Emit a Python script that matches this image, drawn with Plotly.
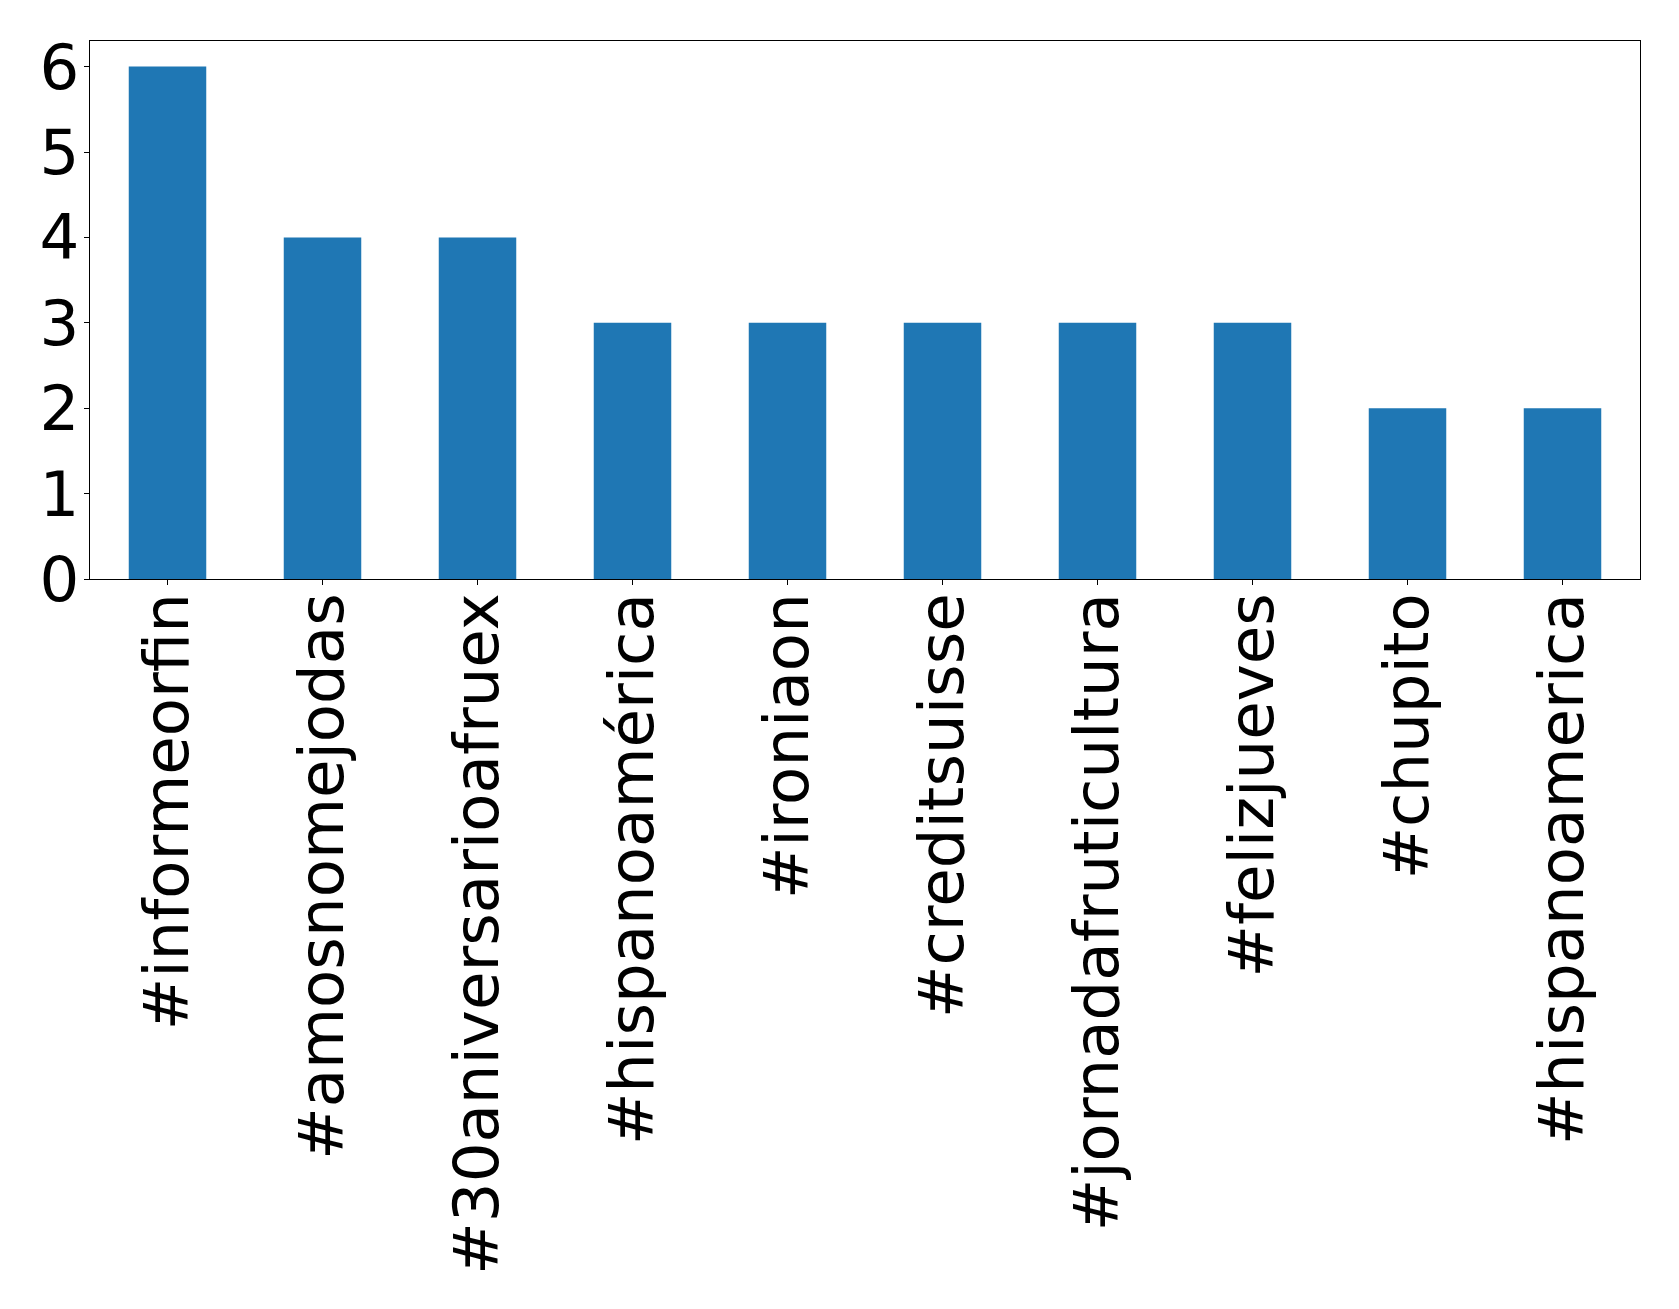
import plotly.graph_objects as go

hashtags = ["#informeorfin", "#amosnomejodas", "#30aniversarioafruex", "#hispanoamérica",
            "#ironiaon", "#creditsuisse", "#jornadafruticultura", "#felizjueves",
            "#chupito", "#hispanoamerica"]
counts = [6, 4, 4, 3, 3, 3, 3, 3, 2, 2]
y_ticks = [0, 1, 2, 3, 4, 5, 6]

fig = go.Figure(go.Bar(x=list(range(len(hashtags))), y=counts, width=0.5,
                       marker=dict(color="#1f77b4", line=dict(width=0))))

font = dict(family="DejaVu Sans", size=62.6, color="black")
fig.update_layout(
    width=1671, height=1301,
    margin=dict(l=82, r=39, t=33, b=730, autoexpand=False),
    plot_bgcolor="white", paper_bgcolor="white",
    showlegend=False,
    font=font,
)
fig.update_xaxes(
    range=[-0.5, 9.5], tickmode="array", tickvals=list(range(len(hashtags))),
    ticktext=hashtags, tickangle=-90, ticks="outside", ticklen=5, tickwidth=1.3,
    tickcolor="black", showline=True, linecolor="black", linewidth=1.3, mirror=True,
    showgrid=False, zeroline=False, tickfont=font, ticklabelstandoff=-17,
)
fig.update_yaxes(
    range=[0, 6.3], tickmode="array", tickvals=y_ticks,
    ticktext=[str(v) for v in y_ticks], ticks="outside", ticklen=5, tickwidth=1.3,
    tickcolor="black", showline=True, linecolor="black", linewidth=1.3, mirror=True,
    showgrid=False, zeroline=False, tickfont=font, ticklabelstandoff=-8,
)
fig.write_html("out.html")
